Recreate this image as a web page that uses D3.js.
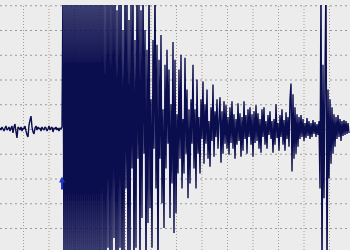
<!DOCTYPE html>
<html>
<head>
<meta charset="utf-8">
<script src="https://cdn.jsdelivr.net/npm/d3@7"></script>
<style>
  html, body { margin: 0; padding: 0; background: #ececec; }
  svg { display: block; }
</style>
</head>
<body>
<svg id="chart"></svg>
<script>
const width = 350,
    height = 250,
    plotTop = 5

// ground motion, counts, one sample per trace pixel
const trace = [
    1, -1, 2, 0, -2, 1, 3, -1, 0, 2,
    -2, 1, 3, -4, 2, 5, -3, -9, 2, 1,
    -1, 2, -2, 1, 0, 3, -2, -6, -8, 4,
    9, 13, 2, -3, -5, 1, 3, -1, 2, 0,
    1, -2, 2, 0, -1, 2, 1, -2, 0, 3,
    -1, 1, 2, -3, 1, 0, 2, -1, 1, -2,
    1, 0, 2,
    150, -150, 150, -150, 150, -150, 150, -150, 150, -150,
    150, -150, 150, -150, 150, -150, 150, -150, 150, -150,
    150, -150, 150, -150, 150, -150, 150, -150, 150, -150,
    150, -150, 150, -150, 150, -150, 150,
    -150, 150, -140, 150, -150, 130, -150, 150, -120, 150,
    -150, 140, -130, 150, -110, 150, -150, 120, -140, 150,
    -120, 150, -150, 100, -130, 150, -60, 140, -150, 110,
    -140, 130, -40, 150, -150, 90, -120, 150, -30, 130,
    -150, 120, -90, 150, -25, 100, -150, 80, -95, 150,
    -80, 30, -120, 90, -20, 150, -60, 85, -150, 70,
    -30, 95, -75, 20, -100, 65, -40, 80, -15, 60,
    -90, 25, -55, 88, -105, 70, -85, 15, -45, 60,
    -30, 75, -60, 10, -45, 72, -25, 40, -70, 20,
    -55, 30, -15, 65, -40, 20, -60, 50, -25, 12,
    -45, 30, -10, 48, -35, 25, -15, 40, -30, 8,
    -38, 22, -12, 45, -28, 18, -8, 30, -20, 10,
    32, -34, 18, -25, 28, -15, 24, -20, 12, -26,
    22, -14, 28, -20, 15, -30, 10, -16, 26, -12,
    16, -28, 12, -22, 28, -10, 14, -25, 20, -8,
    22, -16, 15, -28, 18, -14, 24, -12, 16, -20,
    10, -24, 20, -8, 22, -16, 8, -20, 14, -6,
    18, -10, 8, -24, 10, -16, 25, -9, 6, -22,
    14, -8, 20, -16, 9, -22, 17, -10, 12, -18,
    30, 46, -43, 35, -30, 22, -25, 15, -18, 12,
    -10, 14, -8, 10, -12, 6, -9, 11, -7, 8,
    -10, 6, -8, 9, -5, 7, -8, 5, -6, 8,
    -60, 150, -150, 65, -70, 55, 150, -150, 40, -50,
    30, -35, 22, -25, 15, -18, 12, -10, 14, -8,
    10, -12, 8, -7, 9, -6, 8, -5, 6, -4
]

const sampleRate = 2.55     // samples per second
const startTime = 0.98      // seconds
const pArrival = 25.3       // seconds

const timeGrid = [10, 20, 30, 40, 50, 60, 70, 80, 90, 100, 110, 120, 130]
const countGrid = [-100, -75, -50, -25, 0, 25, 50, 75, 100, 125]

var x = d3.scaleLinear().domain([0, 140]).range([-2.5, 354.5])
var y = d3.scaleLinear().domain([-125, 125]).range([252.75, 5.25])

var svg = d3.select('#chart')
    .attr('width', width)
    .attr('height', height)

svg.append('rect')
    .attr('width', width)
    .attr('height', height)
    .attr('fill', '#ececec')

svg.append('clipPath')
    .attr('id', 'plot')
    .append('rect')
    .attr('x', 0).attr('y', plotTop)
    .attr('width', width).attr('height', height - plotTop)

// grid
svg.append('g')
    .attr('transform', `translate(0, ${height})`)
    .call(d3.axisBottom(x).tickValues(timeGrid).tickSize(height - plotTop).tickFormat(''))
    .call(g => g.select('.domain').remove())
    .call(g => g.selectAll('.tick line')
        .attr('stroke', '#b59686')
        .attr('stroke-dasharray', '1,2')
        .attr('transform', 'scale(1,-1)'))

svg.append('g')
    .call(d3.axisLeft(y).tickValues(countGrid).tickSize(-width).tickFormat(''))
    .call(g => g.select('.domain').remove())
    .call(g => g.selectAll('.tick line')
        .attr('stroke', '#9a98a6')
        .attr('stroke-dasharray', '2,3'))

var line = d3.line()
    .x((d, i) => x(startTime + i / sampleRate))
    .y((d) => y(d))

svg.append('path')
    .datum(trace)
    .attr('clip-path', 'url(#plot)')
    .attr('fill', 'none')
    .attr('stroke', '#0b0e4e')
    .attr('stroke-width', 1.4)
    .attr('stroke-linejoin', 'bevel')
    .attr('d', line)

// P pick marker
var px = x(pArrival), py = y(-48)
svg.append('path')
    .attr('d', `M${px},${py} l-3,6 h2 v7 h2 v-7 h2 z`)
    .attr('fill', '#2233c8')
</script>
</body>
</html>
